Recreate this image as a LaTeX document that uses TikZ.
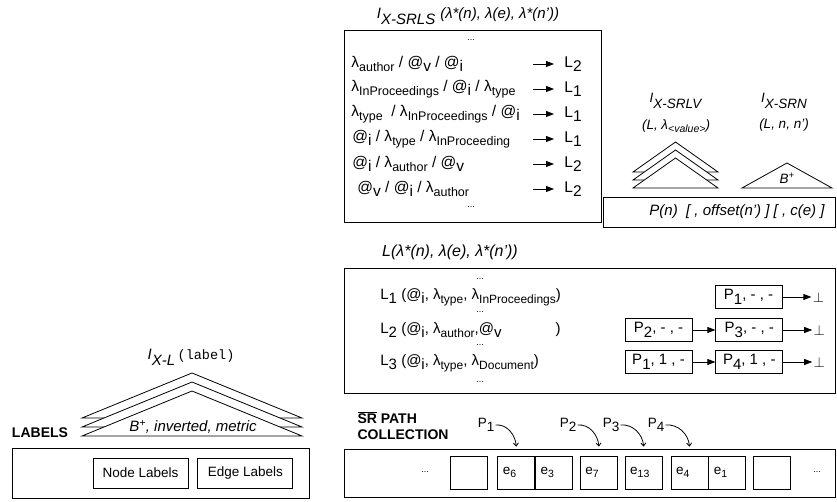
\documentclass[tikz,border=0pt]{standalone}
\usepackage{fontspec}
\setmainfont{Liberation Sans}
\setmonofont{Liberation Mono}
\usetikzlibrary{arrows.meta,positioning}
\newcommand{\subsz}{10.5}
\newcommand{\dn}[1]{\raisebox{-0.55ex}{#1}}
\newcommand{\ls}[1]{\raisebox{-0.5ex}{\fontsize{\subsz}{\subsz}\selectfont #1}}
\newcommand{\idx}[1]{\raisebox{6pt}{\itshape I}\textit{#1}}
\newcommand{\argsup}[1]{\raisebox{6pt}{\itshape #1}}

\begin{document}
\begin{tikzpicture}[x=1pt, y=-1pt, line width=0.8pt,
    every node/.style={font=\fontsize{13.5}{16}\selectfont, inner sep=1pt},
    srow/.style={anchor=west, font=\fontsize{15.5}{19}\selectfont\def\subsz{12.5}},
    lrow/.style={anchor=west, font=\fontsize{15}{18}\selectfont\def\subsz{12}},
    pbox/.style={rectangle, draw, minimum width=67pt, minimum height=23pt, inner sep=2pt, font=\fontsize{15}{18}\selectfont},
    cell/.style={rectangle, draw, text width=27pt, inner xsep=5pt, inner ysep=0pt, minimum height=33pt, align=left},
    lbox/.style={rectangle, draw, minimum width=95pt, minimum height=30pt},
    tri/.style={draw, fill=white, line join=miter},
    dots/.style={font=\fontsize{9}{10}\selectfont},
    arrow/.style={-{Triangle[length=8pt,width=6pt]}},
    bent/.style={-{Straight Barb[length=3pt,width=5pt]}},
    heading/.style={font=\fontsize{14}{16}\selectfont\bfseries, align=left},
    caption/.style={font=\fontsize{15}{18}\selectfont}
]
\useasboundingbox (0,0) rectangle (837,502);

\node[caption] (srls) at (468,16) {\idx{X-SRLS}\,\,\argsup{(λ*(n), λ(e), λ*(n'))}};
\draw (344,30) rectangle (601,222);
\node[dots] (srlstop) at (471,40) {...};
\node[srow] (r1) at (350,64) {λ\ls{author} / @\dn{v} / @\dn{i}};
\node[srow] (r2) at (350,89) {λ\ls{InProceedings} / @\dn{i} / λ\ls{type}};
\node[srow] (r3) at (350,114) {λ\ls{type}~ / λ\ls{InProceedings} / @\dn{i}};
\node[srow] (r4) at (351,139) {@\dn{i} / λ\ls{type} / λ\ls{InProceeding}};
\node[srow] (r5) at (351,164) {@\dn{i} / λ\ls{author} / @\dn{v}};
\node[srow] (r6) at (356,189) {@\dn{v} / @\dn{i} / λ\ls{author}};
\node[dots] (srlsbot) at (471,207) {...};
\node[srow] (t1) at (563,64) {L\dn{2}};
\node[srow] (t2) at (563,89) {L\dn{1}};
\node[srow] (t3) at (563,114) {L\dn{1}};
\node[srow] (t4) at (563,139) {L\dn{1}};
\node[srow] (t5) at (563,164) {L\dn{2}};
\node[srow] (t6) at (563,189) {L\dn{2}};
\draw[arrow] ([xshift=-30pt]t1.west) -- ([xshift=-9pt]t1.west);
\draw[arrow] ([xshift=-30pt]t2.west) -- ([xshift=-9pt]t2.west);
\draw[arrow] ([xshift=-30pt]t3.west) -- ([xshift=-9pt]t3.west);
\draw[arrow] ([xshift=-30pt]t4.west) -- ([xshift=-9pt]t4.west);
\draw[arrow] ([xshift=-30pt]t5.west) -- ([xshift=-9pt]t5.west);
\draw[arrow] ([xshift=-30pt]t6.west) -- ([xshift=-9pt]t6.west);

\node (srlv) at (676,101) {\idx{X-SRLV}};
\node (srlvarg) at (676,126) {\itshape (L, λ\ls{<value>})};
\node (srn) at (784,101) {\idx{X-SRN}};
\node (srnarg) at (784,125) {\itshape (L, n, n')};
\draw[tri] (633,172) -- (675.5,142) -- (718,172) -- cycle;
\draw[tri] (633,180) -- (675.5,150) -- (718,180) -- cycle;
\draw[tri] (633,188) -- (675.5,158) -- (718,188) -- cycle;
\draw[tri] (742,188) -- (787,163) -- (832,188) -- cycle;
\node (srnb) at (787,178) {\itshape B\textsuperscript{+}};
\draw (603,197) rectangle (835,227);
\node[caption] (post) at (737,212) {\itshape P(n)~ [ , offset(n') ] [ , c(e) ]};

\node[caption, font=\fontsize{16}{19}\selectfont] (ltitle) at (450,252) {\itshape L(λ*(n), λ(e), λ*(n'))};
\draw (344,268) rectangle (835,393);
\node[dots] (l0) at (480,279) {...};
\node[lrow] (m1) at (379,297) {L\dn{1} (@\dn{i}, λ\ls{type}, λ\ls{InProceedings})};
\node[dots] (l1) at (480,312) {...};
\node[lrow] (m2) at (379,330) {L\dn{2} (@\dn{i}, λ\ls{author},@\dn{v}\hspace{54pt})};
\node[dots] (l2) at (480,345) {...};
\node[lrow] (m3) at (379,363) {L\dn{3} (@\dn{i}, λ\ls{type}, λ\ls{Document})};
\node[dots] (l3) at (480,382) {...};
\node[pbox] (a1) at (748.5,297) {P\dn{1}, - , -};
\node[pbox] (b1) at (658.5,330) {P\dn{2}, - , -};
\node[pbox, right=23pt of b1] (b2) {P\dn{3}, - , -};
\node[pbox] (c1) at (658.5,362) {P\dn{1}, 1 , -};
\node[pbox, right=23pt of c1] (c2) {P\dn{4}, 1 , -};
\node[right=29pt of a1] (a9) {$\perp$};
\node[right=29pt of b2] (b9) {$\perp$};
\node[right=29pt of c2] (c9) {$\perp$};
\draw[arrow] (a1) -- (a9);
\draw[arrow] (b1) -- (b2);
\draw[arrow] (b2) -- (b9);
\draw[arrow] (c1) -- (c2);
\draw[arrow] (c2) -- (c9);

\node[caption] (xl) at (191,357) {\idx{X-L}\,\raisebox{6pt}{\fontsize{13.5}{15}\selectfont\ttfamily (label)}};
\draw[tri] (82,418) -- (192,373) -- (302,418) -- cycle;
\draw[tri] (82,427) -- (192,382) -- (302,427) -- cycle;
\draw[tri] (82,436) -- (192,391) -- (302,436) -- cycle;
\node[caption] (bplus) at (193,427) {\itshape B\textsuperscript{+}, inverted, metric};
\node[heading] (labels) at (40,433) {LABELS};
\draw (12,448) rectangle (309,498);
\node[lbox] (nodel) at (140.5,473) {Node Labels};
\node[lbox, right=9pt of nodel] (edgel) {Edge Labels};

\node[heading] (srpath) at (403,426) {$\overline{\mbox{SR}}$ PATH\\COLLECTION};
\draw (344,449) rectangle (835,497);
\node[dots] (pl) at (425,472) {...};
\node[cell] (c0) at (468.5,472.5) {};
\node[cell, right=10pt of c0] (e6) {e\ls{6}};
\node[cell, right=0pt of e6] (e3) {e\ls{3}};
\node[cell, right=7pt of e3] (e7) {e\ls{7}};
\node[cell, right=7pt of e7] (e13) {e\ls{13}};
\node[cell, right=8pt of e13] (e4) {e\ls{4}};
\node[cell, right=0pt of e4] (e1) {e\ls{1}};
\node[cell, right=7pt of e1] (cn) {};
\node[dots] (pr) at (817,472) {...};
\node (p1) at (486,425) {P\dn{1}};
\node (p2) at (568,425) {P\dn{2}};
\node (p3) at (611,425) {P\dn{3}};
\node (p4) at (656,425) {P\dn{4}};
\draw[bent] (p1.east) to[out=5,in=95] ([yshift=9pt]e6.north);
\draw[bent] (p2.east) to[out=5,in=95] ([yshift=9pt]e7.north);
\draw[bent] (p3.east) to[out=5,in=95] ([yshift=9pt]e13.north);
\draw[bent] (p4.east) to[out=5,in=95] ([yshift=9pt]e4.north);
\end{tikzpicture}
\end{document}
